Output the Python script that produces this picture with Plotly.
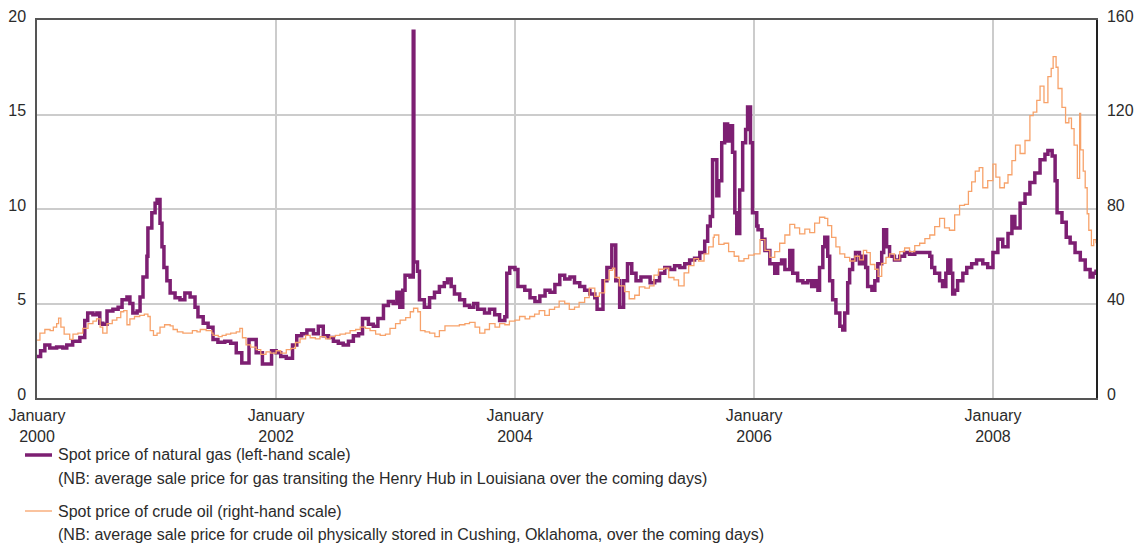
import plotly.graph_objects as go

# Henry Hub natural gas spot price, $/MMBtu (left-hand scale)
gas_dates = [
    "2000-01-01", "2000-01-12", "2000-01-25", "2000-02-09", "2000-03-01", "2000-03-20",
    "2000-04-01", "2000-04-19", "2000-05-11", "2000-05-26", "2000-06-04", "2000-06-20",
    "2000-07-02", "2000-07-11", "2000-07-20", "2000-08-02", "2000-08-20", "2000-09-05",
    "2000-09-17", "2000-10-02", "2000-10-11", "2000-10-20", "2000-11-02", "2000-11-11",
    "2000-11-20", "2000-12-02", "2000-12-05", "2000-12-17", "2000-12-27",
    "2001-01-02", "2001-01-11", "2001-01-17", "2001-01-23", "2001-02-01", "2001-02-11",
    "2001-02-26", "2001-03-13", "2001-03-28", "2001-04-13", "2001-04-28", "2001-05-07",
    "2001-05-23", "2001-06-07", "2001-06-22", "2001-07-07", "2001-07-28", "2001-08-15",
    "2001-09-01", "2001-09-18", "2001-10-10", "2001-11-01", "2001-11-20", "2001-12-18",
    "2002-01-01", "2002-01-15", "2002-02-01", "2002-02-20", "2002-03-05", "2002-03-20",
    "2002-04-05", "2002-04-25", "2002-05-10", "2002-05-25", "2002-06-10", "2002-06-25",
    "2002-07-10", "2002-07-25", "2002-08-10", "2002-08-25", "2002-09-10", "2002-09-22",
    "2002-10-10", "2002-10-25", "2002-11-08", "2002-11-25", "2002-12-10", "2002-12-25",
    "2003-01-05", "2003-01-14", "2003-01-23", "2003-01-30", "2003-02-14", "2003-02-24",
    "2003-02-26", "2003-03-09", "2003-03-15", "2003-03-30", "2003-04-15", "2003-04-30",
    "2003-05-15", "2003-05-30", "2003-06-09", "2003-06-20", "2003-06-30", "2003-07-16",
    "2003-07-31", "2003-08-15", "2003-08-28", "2003-09-09", "2003-09-30", "2003-10-15",
    "2003-10-31", "2003-11-15", "2003-12-01", "2003-12-07", "2003-12-16",
    "2004-01-01", "2004-01-10", "2004-01-31", "2004-02-16", "2004-03-02", "2004-03-17",
    "2004-04-02", "2004-04-17", "2004-05-02", "2004-05-17", "2004-06-01", "2004-06-17",
    "2004-07-01", "2004-07-17", "2004-08-01", "2004-08-17", "2004-09-01", "2004-09-08",
    "2004-09-26", "2004-10-08", "2004-10-23", "2004-11-04", "2004-11-16", "2004-11-28",
    "2004-12-10", "2004-12-23",
    "2005-01-05", "2005-01-20", "2005-02-01", "2005-02-17", "2005-03-03", "2005-03-18",
    "2005-04-03", "2005-04-18", "2005-05-03", "2005-05-19", "2005-06-03", "2005-06-18",
    "2005-07-03", "2005-07-19", "2005-08-03", "2005-08-12", "2005-08-20", "2005-08-27",
    "2005-09-09", "2005-09-15", "2005-09-24", "2005-10-03", "2005-10-12", "2005-10-21",
    "2005-10-27", "2005-11-03", "2005-11-09", "2005-11-18", "2005-11-27", "2005-12-06",
    "2005-12-12", "2005-12-21", "2005-12-27",
    "2006-01-09", "2006-01-13", "2006-01-25", "2006-02-03", "2006-02-18", "2006-03-05",
    "2006-03-14", "2006-03-26", "2006-04-05", "2006-04-20", "2006-04-29", "2006-05-14",
    "2006-05-30", "2006-06-14", "2006-06-26", "2006-07-05", "2006-07-15", "2006-07-20",
    "2006-07-30", "2006-08-05", "2006-08-14", "2006-08-20", "2006-08-29", "2006-09-08",
    "2006-09-20", "2006-09-29", "2006-10-05", "2006-10-14", "2006-10-20", "2006-10-29",
    "2006-11-07", "2006-11-19", "2006-11-28", "2006-12-08", "2006-12-14", "2006-12-27",
    "2007-01-05", "2007-01-14", "2007-01-26", "2007-02-01", "2007-02-10", "2007-02-19",
    "2007-03-06", "2007-03-22", "2007-04-06", "2007-04-21", "2007-05-07", "2007-05-22",
    "2007-06-07", "2007-06-22", "2007-06-28", "2007-07-07", "2007-07-22", "2007-07-31",
    "2007-08-10", "2007-08-16", "2007-08-25", "2007-08-31", "2007-09-06", "2007-09-15",
    "2007-10-01", "2007-10-13", "2007-10-28", "2007-11-12", "2007-12-01", "2007-12-16",
    "2008-01-01", "2008-01-16", "2008-01-31", "2008-02-16", "2008-02-28", "2008-03-08",
    "2008-03-24", "2008-04-08", "2008-04-23", "2008-05-08", "2008-05-24", "2008-06-08",
    "2008-06-17", "2008-06-30", "2008-07-09", "2008-07-15", "2008-07-30", "2008-08-12",
    "2008-08-24", "2008-09-08", "2008-09-24", "2008-10-09", "2008-10-24", "2008-11-02",
    "2008-11-11",
]
gas_values = [
    2.2, 2.5, 2.8, 2.65, 2.7, 2.65,
    2.8, 3.0, 3.2, 4.1, 4.5, 4.4,
    4.5, 3.95, 3.9, 4.6, 4.7, 4.8,
    5.2, 5.35, 5.0, 4.5, 4.6, 5.35,
    6.4, 7.5, 9.0, 9.8, 10.3,
    10.5, 9.25, 8.0, 6.9, 6.2, 5.55,
    5.3, 5.2, 5.55, 5.35, 4.8, 4.3,
    3.95, 3.75, 3.1, 2.95, 3.0, 2.9,
    2.4, 1.85, 3.1, 2.4, 1.8, 2.5,
    2.4, 2.2, 2.1, 2.8, 3.3, 3.4,
    3.6, 3.4, 3.8, 3.3, 3.2, 3.0,
    2.9, 2.8, 3.0, 3.3, 3.4, 4.2,
    3.9, 3.8, 4.2, 4.9, 5.1, 5.0,
    5.6, 4.8, 5.7, 6.5, 6.4, 19.4,
    7.2, 6.7, 5.2, 4.8, 5.3, 5.6,
    5.9, 6.1, 6.3, 5.9, 5.5, 5.2,
    4.9, 4.8, 5.0, 4.7, 4.5, 4.7,
    4.4, 4.1, 4.3, 6.6, 6.9,
    6.8, 5.9, 5.7, 5.3, 5.1, 5.4,
    5.7, 5.6, 6.0, 6.5, 6.3, 6.4,
    6.1, 5.9, 5.7, 5.5, 5.3, 4.7,
    6.2, 6.9, 8.1, 6.2, 4.8, 6.2,
    7.1, 6.6,
    6.2, 6.4, 6.4, 6.1, 6.2, 6.6,
    6.9, 6.8, 7.0, 6.9, 7.1, 7.3,
    7.4, 7.7, 8.3, 9.1, 9.6, 12.6,
    10.7, 11.5, 13.5, 14.5, 13.6, 14.4,
    13.0, 9.8, 8.7, 11.0, 13.5, 14.2,
    15.4, 13.5, 9.8,
    9.1, 8.9, 8.4, 7.8, 7.1, 6.6,
    7.1, 7.3, 6.8, 7.8, 6.6, 6.2,
    6.1, 6.2, 5.9, 6.2, 5.7, 6.9,
    8.0, 8.5, 7.5, 6.2, 5.2, 4.5,
    3.8, 3.6, 4.5, 6.1, 6.8, 7.3,
    7.7, 7.1, 7.5, 6.9, 5.9, 5.7,
    6.2, 7.1, 7.7, 8.9, 8.0, 7.5,
    7.3, 7.5, 7.7, 7.6, 7.7, 7.7,
    7.7, 7.5, 6.9, 6.6, 6.2, 5.9,
    6.6, 7.3, 6.6, 5.5, 5.7, 6.2,
    6.6, 6.9, 7.1, 7.3, 7.1, 6.9,
    7.7, 8.4, 8.0, 8.7, 9.6, 9.0,
    10.3, 10.8, 11.4, 11.9, 12.6, 12.9,
    13.1, 12.8, 11.5, 9.8, 9.3, 8.5,
    8.2, 7.7, 7.3, 6.8, 6.4, 6.6,
    6.8,
]

# Cushing WTI crude oil spot price, $/barrel (right-hand scale)
oil_dates = [
    "2000-01-01", "2000-01-10", "2000-01-25", "2000-02-10", "2000-02-20", "2000-03-01",
    "2000-03-07", "2000-03-14", "2000-03-24", "2000-04-10", "2000-04-20", "2000-05-05",
    "2000-05-20", "2000-06-05", "2000-06-20", "2000-07-01", "2000-07-12", "2000-07-20",
    "2000-08-02", "2000-08-18", "2000-09-01", "2000-09-13", "2000-09-22", "2000-10-02",
    "2000-10-11", "2000-10-25", "2000-11-10", "2000-11-24", "2000-12-05", "2000-12-12",
    "2000-12-22",
    "2001-01-02", "2001-01-11", "2001-01-25", "2001-02-11", "2001-02-20", "2001-03-05",
    "2001-03-22", "2001-04-04", "2001-04-20", "2001-05-04", "2001-05-14", "2001-06-01",
    "2001-06-18", "2001-06-22", "2001-07-08", "2001-07-20", "2001-08-01", "2001-08-15",
    "2001-09-01", "2001-09-12", "2001-09-20", "2001-10-01", "2001-10-15", "2001-11-01",
    "2001-11-15", "2001-12-01", "2001-12-15",
    "2002-01-01", "2002-01-15", "2002-02-01", "2002-02-15", "2002-03-01", "2002-03-15",
    "2002-04-01", "2002-04-15", "2002-05-01", "2002-05-15", "2002-06-01", "2002-06-15",
    "2002-07-01", "2002-07-15", "2002-08-01", "2002-08-15", "2002-09-01", "2002-09-15",
    "2002-10-01", "2002-10-15", "2002-11-01", "2002-11-15", "2002-12-01", "2002-12-15",
    "2003-01-01", "2003-01-15", "2003-02-01", "2003-02-15", "2003-02-25", "2003-03-10",
    "2003-03-18", "2003-04-01", "2003-04-15", "2003-05-01", "2003-05-15", "2003-06-01",
    "2003-06-15", "2003-07-01", "2003-07-15", "2003-08-01", "2003-08-15", "2003-09-01",
    "2003-09-15", "2003-10-01", "2003-10-15", "2003-11-01", "2003-11-15", "2003-12-01",
    "2003-12-15",
    "2004-01-01", "2004-01-15", "2004-02-01", "2004-02-15", "2004-03-01", "2004-03-15",
    "2004-04-01", "2004-04-15", "2004-05-01", "2004-05-15", "2004-06-01", "2004-06-15",
    "2004-07-01", "2004-07-15", "2004-08-01", "2004-08-15", "2004-09-01", "2004-09-15",
    "2004-10-01", "2004-10-15", "2004-10-25", "2004-11-01", "2004-11-15", "2004-12-01",
    "2004-12-15",
    "2005-01-01", "2005-01-15", "2005-02-01", "2005-02-15", "2005-03-01", "2005-03-15",
    "2005-04-01", "2005-04-15", "2005-05-01", "2005-05-15", "2005-06-01", "2005-06-15",
    "2005-07-01", "2005-07-15", "2005-08-01", "2005-08-15", "2005-08-29", "2005-09-01",
    "2005-09-15", "2005-10-01", "2005-10-15", "2005-11-01", "2005-11-15", "2005-12-01",
    "2005-12-15",
    "2006-01-01", "2006-01-19", "2006-02-03", "2006-02-18", "2006-03-05", "2006-03-20",
    "2006-04-05", "2006-04-20", "2006-05-05", "2006-05-20", "2006-06-05", "2006-06-20",
    "2006-07-05", "2006-07-20", "2006-08-05", "2006-08-14", "2006-08-26", "2006-09-08",
    "2006-09-20", "2006-10-05", "2006-10-20", "2006-11-05", "2006-11-19", "2006-12-01",
    "2006-12-11", "2006-12-22",
    "2007-01-05", "2007-01-15", "2007-01-26", "2007-02-08", "2007-02-19", "2007-03-06",
    "2007-03-22", "2007-04-06", "2007-04-21", "2007-05-07", "2007-05-22", "2007-06-07",
    "2007-06-22", "2007-07-07", "2007-07-22", "2007-08-06", "2007-08-21", "2007-09-06",
    "2007-09-21", "2007-10-06", "2007-10-18", "2007-10-28", "2007-11-08", "2007-11-20",
    "2007-12-01", "2007-12-16",
    "2008-01-01", "2008-01-10", "2008-01-22", "2008-02-05", "2008-02-16", "2008-02-28",
    "2008-03-10", "2008-03-24", "2008-04-08", "2008-04-23", "2008-05-03", "2008-05-14",
    "2008-05-24", "2008-06-05", "2008-06-17", "2008-06-27", "2008-07-03", "2008-07-12",
    "2008-07-18", "2008-07-30", "2008-08-10", "2008-08-20", "2008-08-28", "2008-09-05",
    "2008-09-15", "2008-09-22", "2008-09-25", "2008-10-03", "2008-10-09", "2008-10-15",
    "2008-10-20", "2008-10-28", "2008-11-04", "2008-11-11",
]
oil_values = [
    24.5, 27.5, 29.0, 28.5, 30.0, 31.5,
    33.8, 30.0, 27.0, 24.8, 27.0, 27.5,
    29.5, 31.5, 32.5, 33.5, 30.0, 27.5,
    31.5, 33.0, 34.0, 36.5, 37.0, 31.0,
    33.5, 34.5, 35.0, 35.5, 34.5, 28.5,
    26.5,
    27.5, 30.0, 31.0, 30.5, 29.0, 28.0,
    27.5, 27.5, 28.5, 28.0, 29.0, 28.5,
    27.5, 26.5, 26.0, 26.5, 27.0, 27.5,
    28.0, 29.5, 25.5, 22.5, 21.5, 20.5,
    18.5, 19.5, 19.0,
    20.0, 19.0, 20.5, 21.0, 23.5, 25.0,
    26.5, 25.5, 25.0, 26.0, 25.0, 26.0,
    26.5, 27.0, 27.5, 28.5, 29.0, 30.0,
    29.5, 28.5, 27.0, 26.5, 27.0, 29.5,
    31.5, 33.0, 34.0, 36.5, 38.0, 36.5,
    28.5, 28.0, 27.5, 26.0, 28.5, 30.5,
    30.5, 30.5, 31.0, 31.5, 32.0, 30.0,
    27.5, 29.0, 31.5, 30.0, 31.5, 31.0,
    32.5,
    33.0, 34.5, 33.5, 34.5, 35.5, 37.0,
    35.0, 37.5, 38.5, 41.0, 40.0, 37.5,
    38.5, 40.5, 42.5, 46.5, 43.0, 44.5,
    50.0, 54.0, 55.0, 51.0, 47.5, 45.0,
    42.0,
    43.5, 47.0, 46.5, 47.5, 52.0, 54.5,
    55.0, 51.0, 50.0, 47.5, 53.0, 56.0,
    59.0, 58.0, 61.0, 64.0, 68.0, 69.0,
    65.0, 65.5, 62.0, 60.0, 58.0, 59.0,
    60.5,
    61.0, 67.0, 62.5, 59.5, 62.0, 65.5,
    69.0, 73.5, 72.0, 69.5, 71.5, 70.0,
    74.0, 76.5, 76.0, 73.0, 68.0, 64.0,
    61.0, 59.5, 58.0, 60.0, 58.5, 62.5,
    61.5, 56.5,
    54.5, 51.5, 57.0, 59.5, 61.0, 58.5,
    62.0, 63.5, 62.0, 64.5, 65.5, 67.5,
    69.0, 72.5, 76.0, 72.0, 71.0, 77.5,
    81.5, 82.0, 87.5, 91.5, 96.0, 97.5,
    89.0, 92.0,
    99.0, 93.5, 89.0, 91.0, 94.5, 100.5,
    107.0, 103.5, 109.0, 119.5, 121.0, 126.0,
    132.0, 125.0, 136.0, 139.5, 144.5, 140.0,
    131.0, 123.0, 116.5, 118.5, 114.0, 107.0,
    93.0, 120.5, 105.0, 96.0, 89.0, 78.0,
    71.0, 64.5, 67.0, 65.5,
]

year_ticks = ["2000-01-01", "2002-01-01", "2004-01-01", "2006-01-01", "2008-01-01"]
year_labels = ["January<br>2000", "January<br>2002", "January<br>2004",
               "January<br>2006", "January<br>2008"]
left_ticks = [0, 5, 10, 15, 20]
right_ticks = [0, 40, 80, 120, 160]

GAS_COLOR = "#7d1f72"
OIL_COLOR = "#f7a26a"
TEXT_COLOR = "#2b2b2b"
FONT = "Liberation Sans, Arial, Helvetica, sans-serif"
FONT_SIZE = 16

legend_items = [
    (GAS_COLOR, 3.5, "Spot price of natural gas (left-hand scale)",
     "(NB: average sale price for gas transiting the Henry Hub in Louisiana over the coming days)"),
    (OIL_COLOR, 1.3, "Spot price of crude oil (right-hand scale)",
     "(NB: average sale price for crude oil physically stored in Cushing, Oklahoma, over the coming days)"),
]

W, H = 1136, 546
M_L, M_R, M_T, M_B = 37, 40, 20, 148
plot_w = W - M_L - M_R
plot_h = H - M_T - M_B


def px_to_paper(px, py):
    return (px - M_L) / plot_w, (H - M_B - py) / plot_h


fig = go.Figure()
fig.add_trace(go.Scatter(
    x=gas_dates, y=gas_values, mode="lines", line_shape="hv",
    line=dict(color=GAS_COLOR, width=3.5), yaxis="y", showlegend=False,
))
fig.add_trace(go.Scatter(
    x=oil_dates, y=oil_values, mode="lines", line_shape="hv",
    line=dict(color=OIL_COLOR, width=1.3), yaxis="y2", showlegend=False,
))

shapes = []
annotations = []
for i, (color, width, title, note) in enumerate(legend_items):
    base_y = 455 + i * 56
    x0, y0 = px_to_paper(25, base_y)
    x1, _ = px_to_paper(52, base_y)
    shapes.append(dict(type="line", xref="paper", yref="paper", x0=x0, x1=x1,
                       y0=y0, y1=y0, line=dict(color=color, width=width)))
    tx, ty = px_to_paper(56, base_y)
    annotations.append(dict(xref="paper", yref="paper", x=tx, y=ty, text=title,
                            showarrow=False, xanchor="left", yanchor="middle",
                            font=dict(family=FONT, size=FONT_SIZE, color=TEXT_COLOR)))
    tx, ty = px_to_paper(56, base_y + 23)
    annotations.append(dict(xref="paper", yref="paper", x=tx, y=ty, text=note,
                            showarrow=False, xanchor="left", yanchor="middle",
                            font=dict(family=FONT, size=FONT_SIZE, color=TEXT_COLOR)))

tick_font = dict(family=FONT, size=FONT_SIZE, color=TEXT_COLOR)

fig.update_layout(
    width=W, height=H,
    margin=dict(l=M_L, r=M_R, t=M_T, b=M_B, pad=0, autoexpand=False),
    paper_bgcolor="white", plot_bgcolor="white",
    font=dict(family=FONT, size=FONT_SIZE, color=TEXT_COLOR),
    xaxis=dict(
        type="date", range=["2000-01-01", "2008-11-11"],
        tickmode="array", tickvals=year_ticks, ticktext=year_labels,
        showgrid=True, gridcolor="#cccccc", gridwidth=1.5,
        showline=True, linecolor="#555555", linewidth=2, mirror=True,
        ticks="", ticklabelstandoff=2, zeroline=False, automargin=False,
        tickfont=tick_font,
    ),
    yaxis=dict(
        range=[0, 20], tickmode="array", tickvals=left_ticks,
        showgrid=True, gridcolor="#cccccc", gridwidth=1.5,
        showline=True, linecolor="#555555", linewidth=1.5,
        ticks="", ticklabelstandoff=6, ticklabelshift=-4,
        zeroline=False, automargin=False, tickfont=tick_font,
    ),
    yaxis2=dict(
        range=[0, 160], tickmode="array", tickvals=right_ticks,
        overlaying="y", side="right", showgrid=False,
        showline=True, linecolor="#222222", linewidth=1.5,
        ticks="", ticklabelstandoff=6, ticklabelshift=-4,
        zeroline=False, automargin=False, tickfont=tick_font,
    ),
    shapes=shapes, annotations=annotations,
)

fig.write_html("out.html")
